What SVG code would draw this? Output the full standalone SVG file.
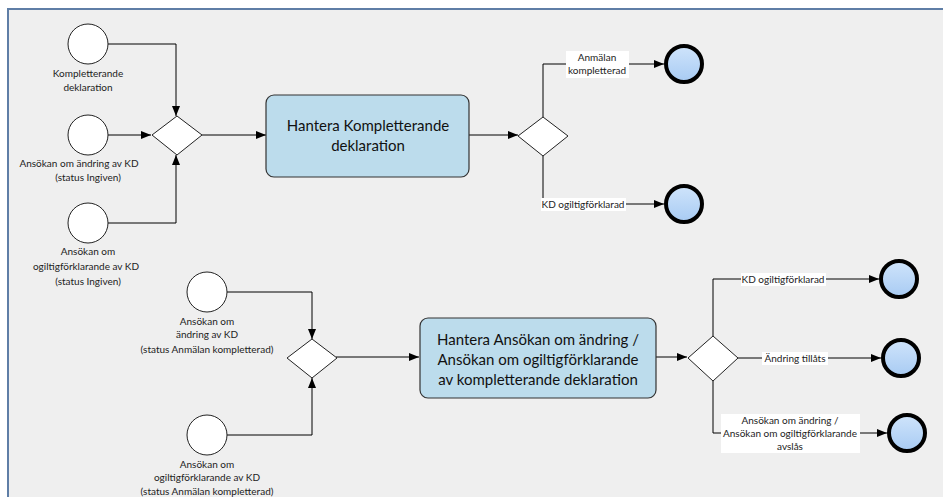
<svg xmlns="http://www.w3.org/2000/svg" width="943" height="497" viewBox="0 0 943 497">
<defs>
<marker id="arr" viewBox="0 0 10 8" refX="10" refY="4" markerWidth="10" markerHeight="8" markerUnits="userSpaceOnUse" orient="auto">
<path d="M0,0 L10,4 L0,8 Z" fill="#000"/>
</marker>
<linearGradient id="endg" x1="0" y1="0" x2="0" y2="1">
<stop offset="0" stop-color="#cfe4fb"/>
<stop offset="1" stop-color="#a8cbf3"/>
</linearGradient>
<style>
.start{fill:#fff;stroke:#222;stroke-width:1}
.end{fill:url(#endg);stroke:#000;stroke-width:4}
.gw{fill:#fff;stroke:#222;stroke-width:1}
.task{fill:#bcdcec;stroke:#333;stroke-width:1.2}
.conn{fill:none;stroke:#000;stroke-width:1;marker-end:url(#arr)}
.lbl{font-family:Lato,"Liberation Sans",Arial,sans-serif;font-size:10px;fill:#222;text-anchor:middle}
.tt{font-family:Lato,"Liberation Sans",Arial,sans-serif;font-size:15px;fill:#111;text-anchor:middle}
.lbg{fill:#fff}
</style>
</defs>
<rect x="0" y="0" width="943" height="497" fill="#fff"/>
<rect x="8" y="9" width="945" height="500" fill="#efefef" stroke="#5f7ea6" stroke-width="2"/>

<g id="connectors">
<path class="conn" d="M108,44 H176 V116"/>
<path class="conn" d="M108,135 H151"/>
<path class="conn" d="M108,223 H176 V155"/>
<path class="conn" d="M202,135 H266"/>
<path class="conn" d="M469,135 H518"/>
<path class="conn" d="M543,117 V64 H664"/>
<path class="conn" d="M543,156 V204 H664"/>
<path class="conn" d="M227,292 H312 V339"/>
<path class="conn" d="M227,435 H312 V378"/>
<path class="conn" d="M336,357 H419"/>
<path class="conn" d="M656,357 H687"/>
<path class="conn" d="M713,336 V279 H879"/>
<path class="conn" d="M738,358 H881"/>
<path class="conn" d="M713,381 V433 H887"/>
<rect class="lbg" x="566" y="51" width="63" height="27"/>
<text class="lbl" x="597" y="61">Anmälan</text>
<text class="lbl" x="597" y="74">kompletterad</text>
<rect class="lbg" x="541" y="198" width="85" height="13"/>
<text class="lbl" x="583" y="208">KD ogiltigförklarad</text>
<rect class="lbg" x="741" y="273" width="85" height="13"/>
<text class="lbl" x="783" y="283">KD ogiltigförklarad</text>
<rect class="lbg" x="762" y="352" width="66" height="13"/>
<text class="lbl" x="795" y="362">Ändring tillåts</text>
<rect class="lbg" x="721" y="414" width="139" height="39"/>
<text class="lbl" x="790" y="424">Ansökan om ändring /</text>
<text class="lbl" x="790" y="437">Ansökan om ogiltigförklarande</text>
<text class="lbl" x="790" y="450">avslås</text>
</g>

<g id="start1">
<circle class="start" cx="88" cy="44" r="20"/>
<text class="lbl" x="88" y="77">Kompletterande</text>
<text class="lbl" x="88" y="91">deklaration</text>
</g>
<g id="start2">
<circle class="start" cx="88" cy="135" r="20"/>
<text class="lbl" x="79" y="167">Ansökan om ändring av KD</text>
<text class="lbl" x="88" y="181">(status Ingiven)</text>
</g>
<g id="start3">
<circle class="start" cx="88" cy="223" r="20"/>
<text class="lbl" x="88" y="255">Ansökan om</text>
<text class="lbl" x="86" y="270">ogiltigförklarande av KD</text>
<text class="lbl" x="88" y="285">(status Ingiven)</text>
</g>
<g id="gateway1">
<polygon class="gw" points="152,135 177,116 202,135 177,155"/>
</g>
<g id="task1">
<rect class="task" x="266" y="95" width="203" height="82" rx="8"/>
<text class="tt" x="368" y="131">Hantera Kompletterande</text>
<text class="tt" x="368" y="151">deklaration</text>
</g>
<g id="gateway2">
<polygon class="gw" points="518,136 543,117 568,136 543,156"/>
</g>
<g id="end1">
<circle class="end" cx="684" cy="64" r="18"/>
</g>
<g id="end2">
<circle class="end" cx="684" cy="204" r="18"/>
</g>

<g id="start4">
<circle class="start" cx="207" cy="292" r="20"/>
<text class="lbl" x="207" y="325">Ansökan om</text>
<text class="lbl" x="207" y="338">ändring av KD</text>
<text class="lbl" x="207" y="353">(status Anmälan kompletterad)</text>
</g>
<g id="start5">
<circle class="start" cx="207" cy="435" r="20"/>
<text class="lbl" x="207" y="468">Ansökan om</text>
<text class="lbl" x="207" y="481">ogiltigförklarande av KD</text>
<text class="lbl" x="207" y="495">(status Anmälan kompletterad)</text>
</g>
<g id="gateway3">
<polygon class="gw" points="287,358 312,339 337,358 312,378"/>
</g>
<g id="task2">
<rect class="task" x="420" y="318" width="236" height="80" rx="8"/>
<text class="tt" x="538" y="345">Hantera Ansökan om ändring /</text>
<text class="tt" x="538" y="365">Ansökan om ogiltigförklarande</text>
<text class="tt" x="538" y="385">av kompletterande deklaration</text>
</g>
<g id="gateway4">
<polygon class="gw" points="688,358 713,336 738,358 713,381"/>
</g>
<g id="end3">
<circle class="end" cx="899" cy="279" r="18"/>
</g>
<g id="end4">
<circle class="end" cx="901" cy="358" r="18"/>
</g>
<g id="end5">
<circle class="end" cx="907" cy="433" r="18"/>
</g>
</svg>
